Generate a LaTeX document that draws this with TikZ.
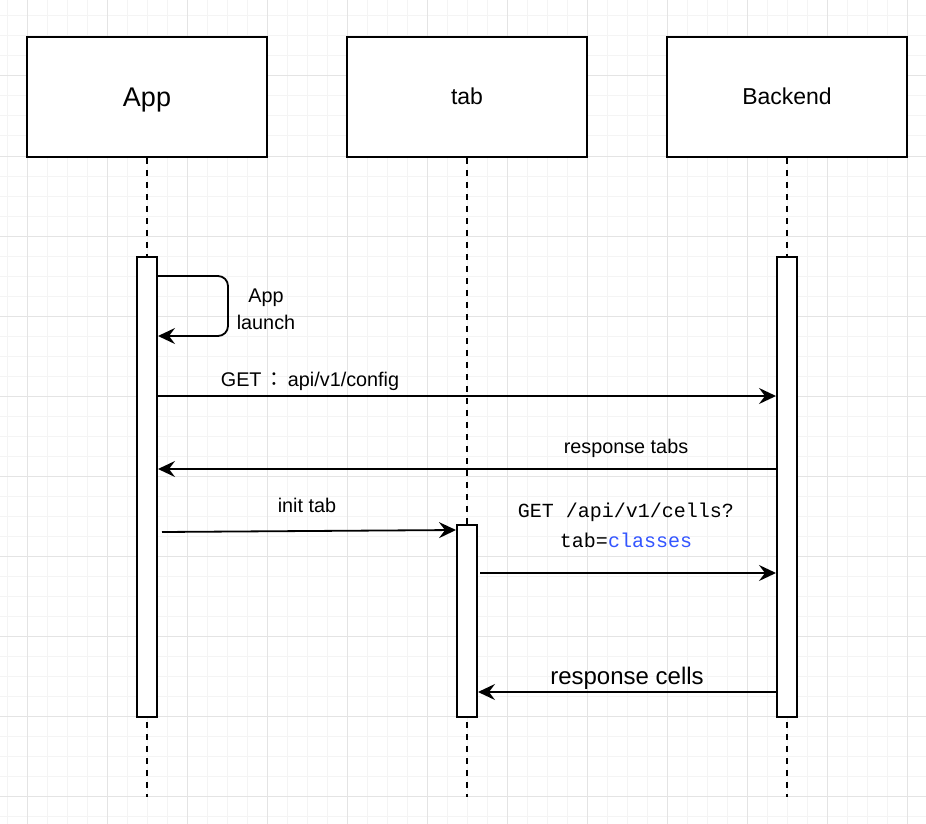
\documentclass[tikz,border=0pt]{standalone}
\usepackage{fontspec}
\setmainfont{Liberation Sans}
\setmonofont{Liberation Mono}
\newfontfamily\cjk{Noto Sans CJK JP}
\usetikzlibrary{arrows.meta}
\definecolor{gridminor}{RGB}{244,244,244}
\definecolor{gridmajor}{RGB}{228,228,228}
\definecolor{codeblue}{RGB}{51,85,255}
\tikzset{
  header/.style={draw, line width=2pt, fill=white, minimum width=240pt, minimum height=120pt, inner sep=0pt},
  actbar/.style={draw, line width=2pt, fill=white, minimum width=20pt, inner sep=0pt},
  lifeline/.style={line width=2pt, dash pattern=on 6pt off 6pt},
  msg/.style={line width=1.8pt, -{Stealth[length=17pt,width=16pt,inset=6pt]}},
  lbl/.style={anchor=base, inner sep=0pt, font=\fontsize{19.8}{23}\selectfont},
  gminor/.style={draw=gridminor, line width=1pt},
  gmajor/.style={draw=gridmajor, line width=1pt},
}
\begin{document}
\begin{tikzpicture}[x=1pt, y=-1pt]
\useasboundingbox (0,0) rectangle (926,824);
\fill[white] (0,0) rectangle (926,824);
% grid
\foreach \gx in {7,27,...,926} \draw[gminor] (\gx,0) -- (\gx,824);
\foreach \gy in {16,36,...,824} \draw[gminor] (0,\gy) -- (926,\gy);
\foreach \gx in {27,107,...,926} \draw[gmajor] (\gx,0) -- (\gx,824);
\foreach \gy in {76,156,...,824} \draw[gmajor] (0,\gy) -- (926,\gy);

% headers
\node[header] (app) at (147,97) {};
\node[header] (tab) at (467,97) {};
\node[header] (be) at (787,97) {};
\node[lbl, font=\fontsize{27}{30}\selectfont] (appt) at (147,107) {App};
\node[lbl, font=\fontsize{23}{26}\selectfont] (tabt) at (467,105) {tab};
\node[lbl, font=\fontsize{23}{26}\selectfont] (bet) at (787,105) {Backend};

% lifelines
\coordinate (append) at (147,797);
\coordinate (tabend) at (467,797);
\coordinate (beend) at (787,797);
\draw[lifeline] (app.south) -- (append);
\draw[lifeline] (tab.south) -- (tabend);
\draw[lifeline] (be.south) -- (beend);

% activation bars
\node[actbar, minimum height=460pt] (appact) at (147,487) {};
\node[actbar, minimum height=192pt] (tabact) at (467,621) {};
\node[actbar, minimum height=460pt] (beact) at (787,487) {};

% self loop
\draw[msg, rounded corners=10pt] ([yshift=-20pt]appact.north east) -- ++(70,0) -- ++(0,60) -- ([yshift=-80pt]appact.north east);
\node[lbl] (l1) at (266,302) {App};
\node[lbl] (l2) at (266,329) {launch};

% messages
\draw[msg] ([yshift=-140pt]appact.north east) -- ([yshift=-140pt]beact.north west);
\node[lbl] (l3) at (310,386) {GET\,{\cjk ：}\,api/v1/config};

\draw[msg] ([yshift=-213pt]beact.north west) -- ([yshift=-213pt]appact.north east);
\node[lbl] (l4) at (626,453) {response tabs};

\draw[msg] ([xshift=4pt,yshift=-276pt]appact.north east) -- ([yshift=-6pt]tabact.north west);
\node[lbl] (l5) at (307,512) {init tab};

\draw[msg] ([xshift=2pt,yshift=-49pt]tabact.north east) -- ([yshift=-317pt]beact.north west);
\node[lbl, font=\fontsize{20}{23}\ttfamily] (l6) at (626,517) {GET /api/v1/cells?};
\node[lbl, font=\fontsize{20}{23}\ttfamily] (l7) at (626,547) {tab=\textcolor{codeblue}{classes}};

\draw[msg] ([yshift=-436pt]beact.north west) -- ([yshift=-168pt]tabact.north east);
\node[lbl, font=\fontsize{24}{27}\selectfont] (l8) at (627,684) {response cells};
\end{tikzpicture}
\end{document}
